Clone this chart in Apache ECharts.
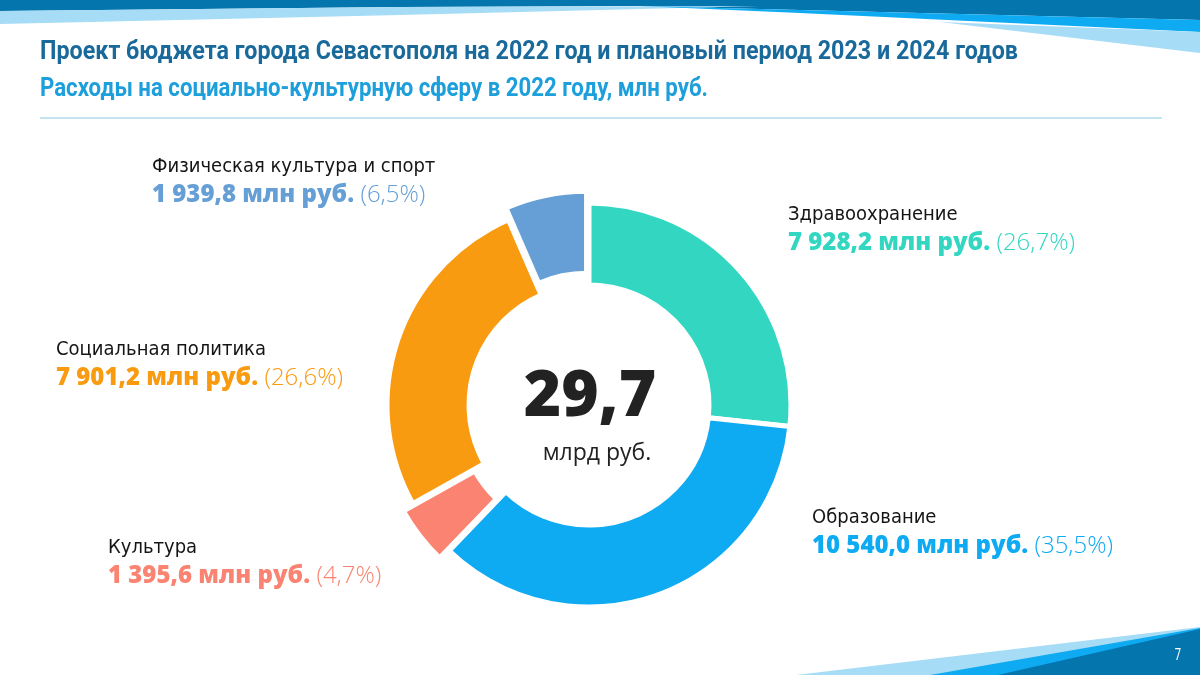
<!DOCTYPE html>
<html>
<head>
<meta charset="utf-8">
<script src="https://cdn.jsdelivr.net/npm/echarts@6/dist/echarts.min.js"></script>
<style>
  html, body { margin: 0; padding: 0; background: #fff; }
  #chart { width: 1200px; height: 675px; }
</style>
</head>
<body>
<div id="chart"></div>
<script>
// data
const categories = ['Здравоохранение', 'Образование', 'Культура', 'Социальная политика', 'Физическая культура и спорт'];
const values = [7928.2, 10540.0, 1395.6, 7901.2, 1939.8];
const colors = ['#33d7c1', '#0eaaf2', '#fa8371', '#f99b10', '#659fd6'];
const offsets = [0, 0, 7, 0, 12];
// top-left corner of each label block
const labelPos = [[788, 201], [812, 504], [108, 534], [56, 336], [152, 153]];

const titleText = 'Проект бюджета города Севастополя на 2022 год и плановый период 2023 и 2024 годов';
const subtitleText = 'Расходы на социально-культурную сферу в 2022 году, млн руб.';

const total = values.reduce((a, b) => a + b, 0);

function fmt(v) {
  const s = v.toFixed(1).split('.');
  return s[0].replace(/\B(?=(\d{3})+(?!\d))/g, '\u00a0') + ',' + s[1];
}

// squeeze a bold font to look condensed
const ctx = document.createElement('canvas').getContext('2d');
function squeeze(text, font, width) {
  ctx.font = font;
  return width / ctx.measureText(text).width;
}
const headFont = 'bold 26px Roboto';
const nameFont = '"DejaVu Sans Condensed", "Liberation Sans Narrow", sans-serif';

const chart = echarts.init(document.getElementById('chart'));

const sliceData = categories.map((name, i) => ({
  name: name,
  value: values[i],
  selected: offsets[i] > 0,
  selectedOffset: offsets[i],
  itemStyle: { color: colors[i] },
  select: { itemStyle: { color: colors[i], borderColor: '#fff', borderWidth: 5 } }
}));

const labelData = categories.map((name, i) => ({
  name: name,
  value: values[i],
  label: {
    rich: {
      n: { fontFamily: nameFont, fontSize: 20, color: '#151515', lineHeight: 28 },
      v: { fontFamily: 'Open Sans', fontWeight: 800, fontSize: 24, color: colors[i], lineHeight: 28 },
      p: { fontFamily: 'Open Sans', fontWeight: 300, fontSize: 24, color: colors[i], lineHeight: 28 }
    }
  }
}));

const pieBase = {
  type: 'pie',
  center: [589, 405],
  radius: [120, 202],
  startAngle: 90,
  clockwise: true,
  avoidLabelOverlap: false,
  emphasis: { disabled: true }
};

const option = {
  backgroundColor: '#fff',
  animation: false,
  graphic: [
    // header waves
    { type: 'polygon', shape: { points: [[0, 0], [1200, 0], [1200, 20], [800, 10], [640, 6], [400, 7], [0, 11]] }, style: { fill: '#0475ad' } },
    { type: 'polygon', shape: { points: [[0, 11], [400, 7], [760, 6], [400, 15], [0, 24]] }, style: { fill: '#a6dcf6' } },
    { type: 'polygon', shape: { points: [[640, 6], [1200, 20], [1200, 32], [800, 13]] }, style: { fill: '#0eaaf2' } },
    { type: 'polygon', shape: { points: [[940, 22], [1200, 32], [1200, 53]] }, style: { fill: '#a6dcf6' } },
    // headings
    {
      type: 'text', x: 40, y: 52, scaleX: squeeze(titleText, headFont, 978),
      style: { text: titleText, fill: '#19699a', font: headFont, verticalAlign: 'middle' }
    },
    {
      type: 'text', x: 40, y: 89, scaleX: squeeze(subtitleText, headFont, 668),
      style: { text: subtitleText, fill: '#1d9fdb', font: headFont, verticalAlign: 'middle' }
    },
    // separator line
    { type: 'line', shape: { x1: 40, y1: 118, x2: 1162, y2: 118 }, style: { stroke: '#c3e4f1', lineWidth: 2 } },
    // footer
    { type: 'polygon', shape: { points: [[796, 675], [1200, 627], [1200, 675]] }, style: { fill: '#a6dcf6' } },
    { type: 'polygon', shape: { points: [[930, 675], [1200, 628], [1200, 675]] }, style: { fill: '#0eaaf2' } },
    { type: 'polygon', shape: { points: [[998, 675], [1200, 629], [1200, 675]] }, style: { fill: '#0475ad' } },
    {
      type: 'text', x: 1178, y: 656, scaleX: 0.7,
      style: { text: '7', fill: '#fff', font: '16px Roboto', align: 'center', verticalAlign: 'middle' }
    },
    // centre total
    {
      type: 'text', x: 590, y: 398,
      style: {
        text: fmt(total / 1000), fill: '#222',
        font: '800 64px "Open Sans"', align: 'center', verticalAlign: 'middle'
      }
    },
    {
      type: 'text', x: 597, y: 453,
      style: { text: 'млрд руб.', fill: '#222', font: '23px "Open Sans"', align: 'center', verticalAlign: 'middle' }
    }
  ],
  series: [
    Object.assign({}, pieBase, {
      selectedMode: 'multiple',
      selectedOffset: 12,
      itemStyle: { borderColor: '#fff', borderWidth: 5 },
      label: { show: false },
      labelLine: { show: false },
      data: sliceData
    }),
    Object.assign({}, pieBase, {
      silent: true,
      itemStyle: { color: 'rgba(0,0,0,0)', borderWidth: 0 },
      label: {
        show: true,
        position: 'outside',
        formatter: (p) => '{n|' + p.name + '}\n{v|' + fmt(p.value) + ' млн руб. }{p|(' + fmt(p.value / total * 100) + '%)}'
      },
      labelLine: { show: false },
      labelLayout: (params) => ({
        x: labelPos[params.dataIndex][0],
        y: labelPos[params.dataIndex][1],
        align: 'left',
        verticalAlign: 'top'
      }),
      data: labelData
    })
  ]
};

chart.setOption(option);
</script>
</body>
</html>
